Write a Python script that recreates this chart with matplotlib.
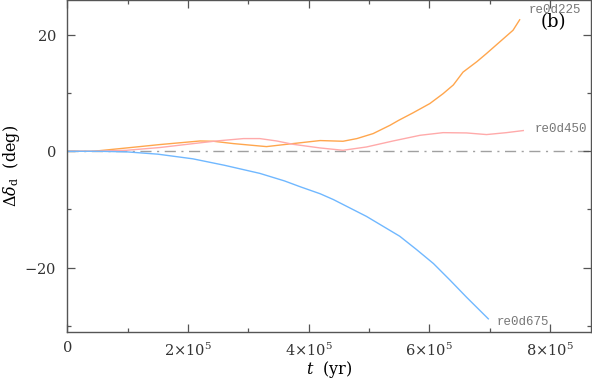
import numpy as np
import matplotlib
matplotlib.use('Agg')
import matplotlib.pyplot as plt
from matplotlib.ticker import MultipleLocator, FuncFormatter

# time in units of 1e5 yr, delta in deg
t_225 = [0.0, 0.43, 0.98, 1.53, 2.20, 2.42, 2.75, 3.30, 3.74, 4.19, 4.57, 4.80,
         5.07, 5.35, 5.49, 5.73, 6.01, 6.23, 6.40, 6.56, 6.79, 6.95, 7.17, 7.39, 7.50]
d_225 = [0.0, 0.0, 0.57, 1.15, 1.77, 1.72, 1.32, 0.80, 1.32, 1.84, 1.72, 2.18,
         3.04, 4.47, 5.3, 6.6, 8.2, 9.9, 11.4, 13.6, 15.4, 16.8, 18.8, 20.8, 22.6]

t_450 = [0.0, 0.43, 0.98, 1.53, 2.09, 2.47, 2.92, 3.19, 3.47, 3.74, 4.19, 4.57,
         4.96, 5.40, 5.85, 6.23, 6.62, 6.95, 7.28, 7.56]
d_450 = [0.0, 0.0, 0.17, 0.64, 1.32, 1.77, 2.18, 2.18, 1.77, 1.20, 0.57, 0.17,
         0.74, 1.77, 2.75, 3.20, 3.15, 2.87, 3.20, 3.56]

t_675 = [0.0, 0.5, 0.98, 1.50, 2.08, 2.60, 3.19, 3.60, 3.86, 4.19, 4.41, 4.96,
         5.51, 5.79, 6.07, 6.34, 6.62, 6.98]
d_675 = [0.0, 0.0, -0.1, -0.5, -1.3, -2.4, -3.8, -5.1, -6.1, -7.3, -8.3, -11.2,
         -14.6, -16.9, -19.3, -22.1, -25.1, -28.8]

runs = [('re0d225', t_225, d_225, '#ffa64d'),
        ('re0d450', t_450, d_450, '#ffaaaa'),
        ('re0d675', t_675, d_675, '#70b8ff')]

plt.rcParams['font.family'] = 'DejaVu Serif'
plt.rcParams['mathtext.fontset'] = 'dejavuserif'

fig = plt.figure(figsize=(5.92, 3.79), dpi=100)
ax = fig.add_axes([0.114, 0.125, 0.885, 0.875])

ax.axhline(0, color='#a0a0a0', lw=1.0, ls=(0, (8, 4, 1.5, 4)), zorder=1)
for name, t, d, c in runs:
    ax.plot(np.array(t) * 1e5, d, color=c, lw=1.0, zorder=2)

ax.set_xlim(0, 8.69e5)
ax.set_ylim(-31, 26)

ax.xaxis.set_major_locator(MultipleLocator(2e5))
ax.xaxis.set_minor_locator(MultipleLocator(1e5))
ax.yaxis.set_major_locator(MultipleLocator(20))
ax.yaxis.set_minor_locator(MultipleLocator(10))


def xfmt(x, pos):
    if abs(x) < 1:
        return '0'
    return r'$%d{\times}10^5$' % round(x / 1e5)


def yfmt(y, pos):
    return r'$%d$' % y if y != 0 else '0'


ax.xaxis.set_major_formatter(FuncFormatter(xfmt))
ax.yaxis.set_major_formatter(FuncFormatter(yfmt))

ax.tick_params(which='both', direction='in', top=True, right=True,
               labelsize=10.5, color='#555555', labelcolor='#333333')
ax.tick_params(which='major', length=6, width=0.9)
ax.tick_params(which='minor', length=3, width=0.9)
ax.tick_params(axis='x', pad=7)
ax.tick_params(axis='y', pad=8)
for s in ax.spines.values():
    s.set_color('#555555')
    s.set_linewidth(1.0)

ax.set_xlabel(r'$t$  (yr)', fontsize=11.5, labelpad=0)
ax.set_ylabel(r'$\Delta\delta_{\rm d}$  (deg)', fontsize=11.5, labelpad=2)

lab = dict(family='Liberation Mono', fontsize=9, color='#777777')
ax.text(7.64e5, 24.3, 're0d225', ha='left', va='center', **lab)
ax.text(7.75e5, 3.9, 're0d450', ha='left', va='center', **lab)
ax.text(7.12e5, -29.4, 're0d675', ha='left', va='center', **lab)
ax.text(7.84e5, 22.2, '(b)', ha='left', va='center', fontsize=13, color='black')

fig.savefig('out.png', dpi=100)
